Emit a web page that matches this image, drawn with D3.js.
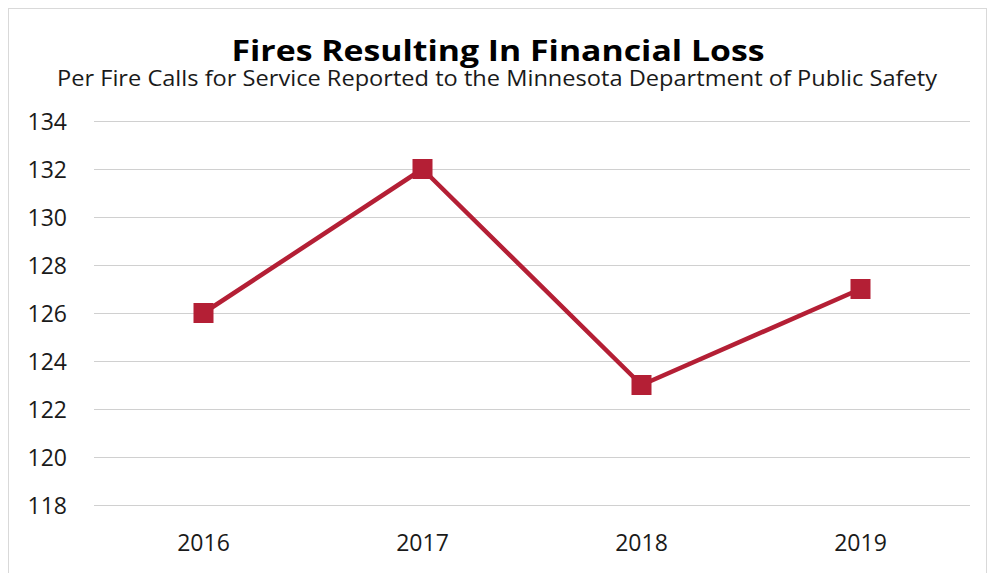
<!DOCTYPE html>
<html>
<head>
<meta charset="utf-8">
<script src="https://cdn.jsdelivr.net/npm/d3@7"></script>
<style>
  html, body { margin: 0; padding: 0; background: #fff; }
  svg { display: block; font-family: "Open Sans", "Noto Sans", sans-serif; }
</style>
</head>
<body>
<svg id="chart" width="992" height="573"></svg>
<script>
const years = ["2016", "2017", "2018", "2019"];
const fires = [126, 132, 123, 127];
const yTicks = [118, 120, 122, 124, 126, 128, 130, 132, 134];
const titleText = "Fires Resulting In Financial Loss";
const subtitleText = "Per Fire Calls for Service Reported to the Minnesota Department of Public Safety";

const svg = d3.select("#chart");
const plot = { left: 94, right: 970, top: 121, bottom: 505 };
const lineColor = "#b41f35";
const font = "'Open Sans', 'Noto Sans', sans-serif";

// chart frame
svg.append("rect")
  .attr("x", 8.5).attr("y", 8.5)
  .attr("width", 978).attr("height", 600)
  .attr("fill", "#fff")
  .attr("stroke", "#d9d9d9").attr("stroke-width", 1);

const x = d3.scaleBand().domain(years).range([plot.left, plot.right]);
const y = d3.scaleLinear().domain([118, 134]).range([plot.bottom, plot.top]);

// horizontal gridlines + y labels
const yAxis = d3.axisLeft(y).tickValues(yTicks).tickSize(-(plot.right - plot.left)).tickPadding(27);
const gy = svg.append("g").attr("transform", `translate(${plot.left},0)`).call(yAxis)
  .attr("font-family", font).attr("font-size", 23);
gy.select(".domain").remove();
gy.selectAll(".tick line").attr("stroke", "#d0d0d0").attr("stroke-width", 1);
gy.selectAll(".tick text").attr("fill", "#1a1a1a").attr("dy", "0.36em");

// x labels
const xAxis = d3.axisBottom(x).tickSize(0).tickPadding(30);
const gx = svg.append("g").attr("transform", `translate(0,${plot.bottom})`).call(xAxis)
  .attr("font-family", font).attr("font-size", 23);
gx.select(".domain").remove();
gx.selectAll(".tick text").attr("fill", "#1a1a1a");

const cx = d => x(d) + x.bandwidth() / 2;

// series line
const data = years.map((yr, i) => ({ yr, v: fires[i] }));
svg.append("path")
  .datum(data)
  .attr("fill", "none")
  .attr("stroke", lineColor)
  .attr("stroke-width", 4.5)
  .attr("stroke-linejoin", "round")
  .attr("d", d3.line().x(d => cx(d.yr)).y(d => y(d.v)));

// square markers
const ms = 20;
svg.selectAll("rect.marker")
  .data(data).enter().append("rect")
  .attr("class", "marker")
  .attr("x", d => cx(d.yr) - ms / 2)
  .attr("y", d => y(d.v) - ms / 2)
  .attr("width", ms).attr("height", ms)
  .attr("fill", lineColor);

// titles
svg.append("text")
  .attr("x", 498).attr("y", 61)
  .attr("text-anchor", "middle")
  .attr("font-size", 29).attr("font-weight", "bold")
  .attr("textLength", 533).attr("lengthAdjust", "spacingAndGlyphs")
  .attr("fill", "#000")
  .text(titleText);
svg.append("text")
  .attr("x", 497).attr("y", 86)
  .attr("text-anchor", "middle")
  .attr("font-size", 21)
  .attr("textLength", 880).attr("lengthAdjust", "spacingAndGlyphs")
  .attr("fill", "#1a1a1a")
  .text(subtitleText);
</script>
</body>
</html>
